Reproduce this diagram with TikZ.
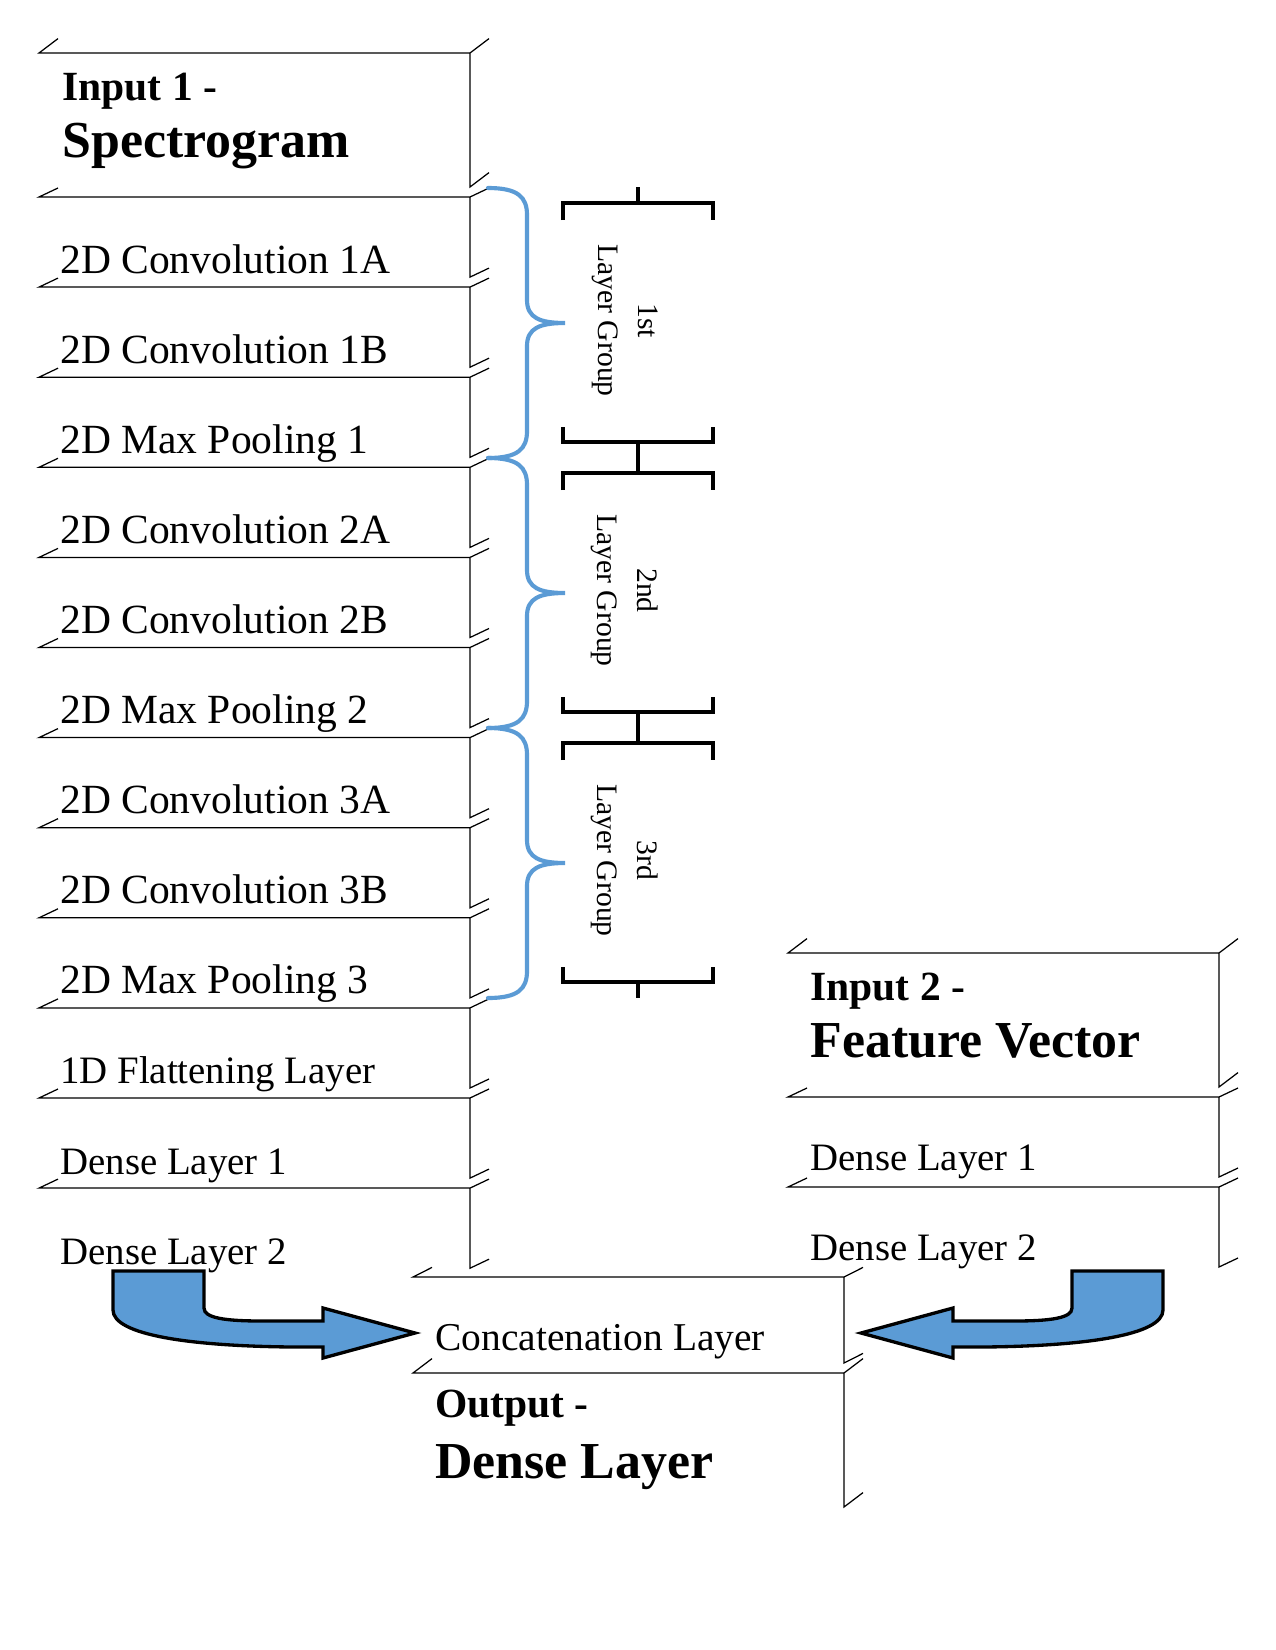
\documentclass[tikz,border=0pt]{standalone}
\usepackage{fontspec}
\setmainfont{Liberation Serif}
\usetikzlibrary{calc}
\definecolor{braceblue}{HTML}{5B9BD5}
\newcommand{\slab}[3]{% left x, top y, height
  \draw[slabline] (#1,#2) ++(19,-#3/10) -- ++(-19,#3/10) -- ++(431,0) -- ++(19,-#3/10)
    ++(-19,#3/10) -- ++(0,#3-10) -- ++(19,-#3/10);}
\newcommand{\bigarrow}{%
  \draw[bigarrow] (113,1271) -- (204,1271) -- (204,1308)
    .. controls (204,1318) and (225,1321) .. (262,1321) -- (323,1321) -- (323,1308)
    -- (415,1333) -- (323,1358) -- (323,1347) -- (292,1347)
    .. controls (190,1346) and (113,1335) .. (113,1310) -- cycle;}

\begin{document}
\begin{tikzpicture}[x=0.16933mm,y=-0.16933mm,
  slabline/.style={line width=0.6pt},
  bracket/.style={line width=1.6pt},
  brace/.style={braceblue,line width=2pt,line cap=round},
  bigarrow/.style={fill=braceblue,draw=black,line width=1.6pt},
  lbl/.style={anchor=base west,inner sep=0pt,font=\fontsize{18.7}{23}\selectfont},
  ttl/.style={anchor=base west,inner sep=0pt,font=\fontsize{20}{24}\selectfont\bfseries},
  ttlbig/.style={anchor=base west,inner sep=0pt,font=\fontsize{25}{30}\selectfont\bfseries},
  grp/.style={minimum width=1in,minimum height=1.5933in,inner sep=0pt,outer sep=0pt},
  grptxt/.style={rotate=-90,align=center,inner sep=0pt,font=\fontsize{14.3}{19.2}\selectfont}]
\useasboundingbox (0,0) rectangle (1275,1650);

% spectrogram branch
\slab{39}{53}{144}
\foreach \k in {0,...,11}{
  \pgfmathsetmacro{\ytop}{197+90.1*\k}
  \slab{39}{\ytop}{90.1}
}
\node[ttl] (in1) at (62,100) {Input 1 -};
\node[ttlbig] (in1b) at (62,157) {Spectrogram};
\foreach \txt/\sz [count=\k from 0] in {2D Convolution 1A/20,2D Convolution 1B/20,2D Max Pooling 1/20,
    2D Convolution 2A/20,2D Convolution 2B/20,2D Max Pooling 2/20,2D Convolution 3A/20,
    2D Convolution 3B/20,2D Max Pooling 3/20,1D Flattening Layer/18.7,Dense Layer 1/18.7,Dense Layer 2/18.7}
  \node[lbl,font=\fontsize{\sz}{23}\selectfont] (L\k) at (60,{273+90.1*\k}) {\txt};

% feature vector branch
\slab{788}{953}{144}
\slab{788}{1097}{90}
\slab{788}{1187}{90}
\node[ttl] (in2) at (810,1000) {Input 2 -};
\node[ttlbig] (in2b) at (810,1057) {Feature Vector};
\node[lbl] (R1) at (810,1170) {Dense Layer 1};
\node[lbl] (R2) at (810,1260) {Dense Layer 2};

% merge and output
\slab{413}{1277}{96}
\slab{413}{1373}{144}
\node[lbl,font=\fontsize{19}{23}\selectfont] (cat) at (435,1350) {Concatenation Layer};
\node[ttl] (out) at (435,1417) {Output -};
\node[ttlbig] (outb) at (435,1478) {Dense Layer};

% layer groups
\foreach \k/\nm in {1/1st,2/2nd,3/3rd}{
  \node[grp] (g\k) at (638,{322.5+270*(\k-1)}) {};
  \node[grptxt] at ($(g\k)+(-13,-2)$) {\nm\\Layer Group};
  \draw[bracket] ($(g\k.north west)+(0,17)$) -- (g\k.north west) -- (g\k.north east) -- ++(0,17);
  \draw[bracket] ($(g\k.south west)+(0,-15)$) -- (g\k.south west) -- (g\k.south east) -- ++(0,-15);
  \draw[brace] (488,{188+270*(\k-1)}) .. controls +(30,0) and +(0,-18) .. ++(39,27) -- ++(0,85)
    .. controls +(0,18) and +(-25,0) .. ++(38,23) .. controls +(-25,0) and +(0,-18) .. ++(-38,23)
    -- ++(0,85) .. controls +(0,18) and +(30,0) .. ++(-39,27);
}
\draw[bracket] (g1.north) -- ++(0,-16);
\draw[bracket] (g1.south) -- (g2.north);
\draw[bracket] (g2.south) -- (g3.north);
\draw[bracket] (g3.south) -- ++(0,16);

% arrows into the concatenation
\bigarrow
\begin{scope}[shift={(1276,0)},xscale=-1]
  \bigarrow
\end{scope}
\end{tikzpicture}
\end{document}
